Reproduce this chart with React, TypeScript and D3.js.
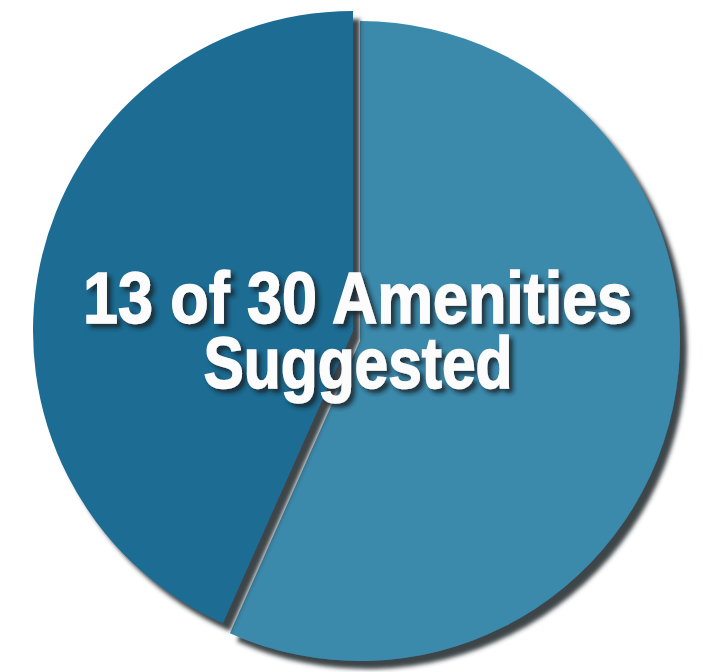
import React from "react";
import * as d3 from "d3";

// chart data
const categories = ["Suggested", "Not suggested"];
const values = [13, 17];
const total = 30;
const titleLines = [`${values[0]} of ${total} Amenities`, "Suggested"];

const colors = ["#1f6c93", "#3a89ab"];

const W = 703;
const H = 672;
const cx = 360;
const cy = 341;
const radius = 320;
const explode = [-7, -10];

export default function App() {
    const startAngle = -2 * Math.PI * (values[0] / total);
    const pie = d3.pie<number>()
        .sort(null)
        .startAngle(startAngle)
        .endAngle(startAngle + 2 * Math.PI);
    const arcs = pie(values);
    const arc = d3.arc<d3.PieArcDatum<number>>()
        .innerRadius(0)
        .outerRadius(radius);

    // draw the big slice first so the small one's shadow falls on it
    const order = [1, 0];

    return <svg width={W} height={H} style={{ position: "absolute", left: 0, top: 0, background: "#ffffff" }}>
        <defs>
            <filter id="slice-shadow" x="-10%" y="-10%" width="120%" height="120%">
                <feDropShadow dx="7" dy="8" stdDeviation="2.2" floodColor="#263034" floodOpacity="0.9" />
            </filter>
            <filter id="text-shadow" x="-10%" y="-30%" width="120%" height="160%">
                <feDropShadow dx="4" dy="4" stdDeviation="2" floodColor="#1c2428" floodOpacity="0.8" />
            </filter>
        </defs>
        <g transform={`translate(${cx},${cy})`}>
            {order.map(i => {
                const a = arcs[i];
                const t = i === 0 ? `translate(${explode[0]},${explode[1]})` : "";
                return <path key={categories[i]}
                    d={arc(a) ?? ""}
                    transform={t}
                    fill={colors[i]}
                    filter="url(#slice-shadow)" />;
            })}
        </g>
        <g fill="#fcfcfc"
            stroke="#fcfcfc"
            strokeWidth={1.5}
            fontFamily="'Liberation Sans', Arial, sans-serif"
            fontWeight="bold"
            fontSize={72}
            textAnchor="middle"
            filter="url(#text-shadow)">
            <text x={357.5} y={323} textLength={549} lengthAdjust="spacingAndGlyphs">{titleLines[0]}</text>
            <text x={358} y={388} textLength={309} lengthAdjust="spacingAndGlyphs">{titleLines[1]}</text>
        </g>
    </svg>;
}
